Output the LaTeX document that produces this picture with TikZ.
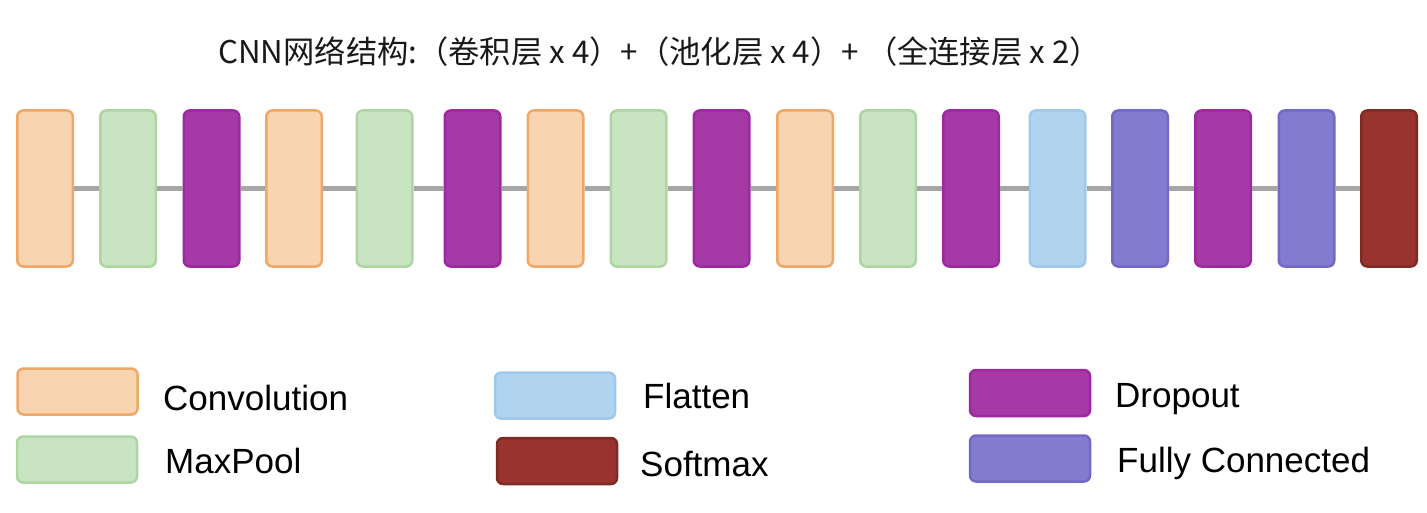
\documentclass[tikz,border=0pt]{standalone}
\usepackage{fontspec}
\setmainfont{Liberation Sans}
\newfontfamily\cjkfont{Noto Sans CJK SC}
\usepackage{tikz}
\usetikzlibrary{positioning}
\definecolor{convfill}{RGB}{248,213,176}
\definecolor{convline}{RGB}{240,168,104}
\definecolor{poolfill}{RGB}{200,228,195}
\definecolor{poolline}{RGB}{172,214,162}
\definecolor{dropfill}{RGB}{165,58,166}
\definecolor{dropline}{RGB}{158,40,162}
\definecolor{flatfill}{RGB}{176,212,240}
\definecolor{flatline}{RGB}{160,200,235}
\definecolor{fcfill}{RGB}{131,123,208}
\definecolor{fcline}{RGB}{114,104,198}
\definecolor{softfill}{RGB}{152,51,46}
\definecolor{softline}{RGB}{128,42,38}
\definecolor{linkgray}{RGB}{166,166,166}
\tikzset{layer/.style={draw,line width=2.5pt,rounded corners=6pt,inner sep=0pt,minimum width=55.5pt,minimum height=156pt}}
\tikzset{key/.style={draw,line width=2.5pt,rounded corners=6pt,inner sep=0pt,minimum width=120pt,minimum height=46pt}}
\tikzset{conv/.style={fill=convfill,draw=convline}}
\tikzset{pool/.style={fill=poolfill,draw=poolline}}
\tikzset{drop/.style={fill=dropfill,draw=dropline}}
\tikzset{flat/.style={fill=flatfill,draw=flatline}}
\tikzset{fc/.style={fill=fcfill,draw=fcline}}
\tikzset{soft/.style={fill=softfill,draw=softline}}
\tikzset{link/.style={draw=linkgray,line width=4.5pt}}
\tikzset{keytext/.style={anchor=base west,inner sep=0pt,font=\fontsize{35}{40}\selectfont}}
\begin{document}
\begin{tikzpicture}[x=1pt,y=-1pt]
        \useasboundingbox (0,0) rectangle (1427,513);
        \node [anchor=base west,inner sep=0pt,text=black!90,font=\cjkfont\fontsize{31.3}{36}\selectfont] (title) at (218,64)
            {CNN网络结构:（卷积层 x 4）+（池化层 x 4）+ （全连接层 x 2）};
        % layers
        \node [layer,conv] (l1) at (45,188.5) {};
        \node [layer,pool] (l2) at (128,188.5) {};
        \node [layer,drop] (l3) at (211.5,188.5) {};
        \node [layer,conv] (l4) at (294,188.5) {};
        \node [layer,pool] (l5) at (384.5,188.5) {};
        \node [layer,drop] (l6) at (472.5,188.5) {};
        \node [layer,conv] (l7) at (555.5,188.5) {};
        \node [layer,pool] (l8) at (638.5,188.5) {};
        \node [layer,drop] (l9) at (721.5,188.5) {};
        \node [layer,conv] (l10) at (805,188.5) {};
        \node [layer,pool] (l11) at (888,188.5) {};
        \node [layer,drop] (l12) at (971,188.5) {};
        \node [layer,flat] (l13) at (1057.5,188.5) {};
        \node [layer,fc] (l14) at (1140,188.5) {};
        \node [layer,drop] (l15) at (1223,188.5) {};
        \node [layer,fc] (l16) at (1306.5,188.5) {};
        \node [layer,soft] (l17) at (1389,188.5) {};
        \foreach \a/\b in {l1/l2,l2/l3,l3/l4,l4/l5,l5/l6,l6/l7,l7/l8,l8/l9,l9/l10,
                           l10/l11,l11/l12,l12/l13,l13/l14,l14/l15,l15/l16,l16/l17}
            \draw [link] (\a.east) -- (\b.west);
        % legend
        \node [key,conv] (kconv) at (77.5,391.5) {};
        \node [keytext] at (163,410) {Convolution};
        \node [key,pool] (kpool) at (77,459.5) {};
        \node [keytext] at (165,473) {MaxPool};
        \node [key,flat] (kflat) at (555,395.5) {};
        \node [keytext] at (643,408) {Flatten};
        \node [key,soft] (ksoft) at (557,461) {};
        \node [keytext] at (640,476) {Softmax};
        \node [key,drop] (kdrop) at (1030,393) {};
        \node [keytext] at (1115,407) {Dropout};
        \node [key,fc] (kfc) at (1030,458.5) {};
        \node [keytext] at (1117,472) {Fully Connected};
    \end{tikzpicture}
\end{document}
